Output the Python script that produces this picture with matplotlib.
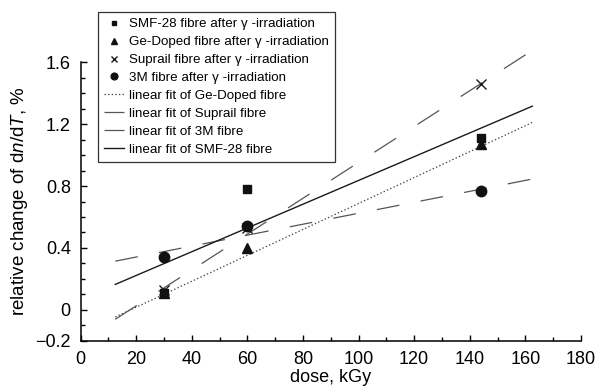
import matplotlib.pyplot as plt
from matplotlib.ticker import MultipleLocator, FixedLocator

plt.rcParams['font.family'] = ['Liberation Sans', 'DejaVu Sans']
plt.rcParams['mathtext.fontset'] = 'custom'
plt.rcParams['mathtext.rm'] = 'Liberation Sans'
plt.rcParams['mathtext.it'] = 'Liberation Sans:italic'
plt.rcParams['lines.scale_dashes'] = False

# measured points
dose = [30, 60, 144]
smf28 = [0.11, 0.78, 1.11]
ge_doped = [0.11, 0.40, 1.07]
suprail = [0.13, 0.53, 1.46]
fibre_3m = [0.34, 0.54, 0.77]

fit_dose = [12.5, 162.5]
fit_ge = [-0.045, 1.21]
fit_suprail = [-0.06, 1.675]
fit_3m = [0.315, 0.845]
fit_smf28 = [0.165, 1.315]

fig = plt.figure(figsize=(6.03, 3.91), dpi=100)
ax = fig.add_axes([0.1335, 0.1279, 0.83, 0.7135])

ax.plot(fit_dose, fit_ge, color='#444444', lw=0.9, dashes=(1.0, 1.6),
        label='linear fit of Ge-Doped fibre', zorder=2)
ax.plot(fit_dose, fit_suprail, color='#555555', lw=0.9, dashes=(18.5, 18.5),
        label='linear fit of Suprail fibre', clip_on=False, zorder=2)
ax.plot(fit_dose, fit_3m, color='#555555', lw=0.9, dashes=(16.5, 15.5),
        label='linear fit of 3M fibre', zorder=2)
ax.plot(fit_dose, fit_smf28, color='#1a1a1a', lw=1.0,
        label='linear fit of SMF-28 fibre', zorder=2)

ax.plot(dose, suprail, 'x', color='#1a1a1a', ms=7, mew=1.0,
        label='Suprail fibre after γ -irradiation', clip_on=False, zorder=3)
ax.plot(dose, ge_doped, '^', color='#111111', ms=7,
        label='Ge-Doped fibre after γ -irradiation', zorder=4)
ax.plot(dose, smf28, 's', color='#111111', ms=5.5,
        label='SMF-28 fibre after γ -irradiation', zorder=4)
ax.plot(dose, fibre_3m, 'o', color='#111111', ms=7.5,
        label='3M fibre after γ -irradiation', zorder=4)

ax.set_xlim(0, 180)
ax.set_ylim(-0.2, 1.6)
ax.xaxis.set_major_locator(MultipleLocator(20))
ax.xaxis.set_minor_locator(MultipleLocator(10))
ax.yaxis.set_major_locator(FixedLocator([-0.2, 0, 0.4, 0.8, 1.2, 1.6]))
ax.yaxis.set_minor_locator(MultipleLocator(0.1))
ax.set_yticklabels(['\u22120.2', '0', '0.4', '0.8', '1.2', '1.6'])

ax.spines['top'].set_visible(False)
ax.spines['right'].set_visible(False)
ax.spines['left'].set_linewidth(1.1)
ax.spines['bottom'].set_linewidth(1.1)
ax.tick_params(which='both', direction='in', width=1.0, labelsize=13)
ax.tick_params(which='major', length=4.5, pad=7)
ax.tick_params(which='minor', length=3)

ax.set_xlabel('dose, kGy', fontsize=13, labelpad=1)
ax.set_ylabel(r'relative change of d$n$/d$T$, %', fontsize=13.5, labelpad=4)

handles, labels = ax.get_legend_handles_labels()
order = ['SMF-28 fibre after γ -irradiation', 'Ge-Doped fibre after γ -irradiation',
         'Suprail fibre after γ -irradiation', '3M fibre after γ -irradiation',
         'linear fit of Ge-Doped fibre', 'linear fit of Suprail fibre',
         'linear fit of 3M fibre', 'linear fit of SMF-28 fibre']
hmap = dict(zip(labels, handles))
leg = fig.legend([hmap[k] for k in order], order, loc='upper left',
                 bbox_to_anchor=(98 / 603, 1 - 12 / 391), fontsize=9.6,
                 frameon=True, fancybox=False, edgecolor='black',
                 handlelength=1.5, handletextpad=0.35, labelspacing=0.42,
                 borderpad=0.45, borderaxespad=0, markerscale=0.65)
leg.get_frame().set_linewidth(0.9)

fig.savefig('out.png', dpi=100)
